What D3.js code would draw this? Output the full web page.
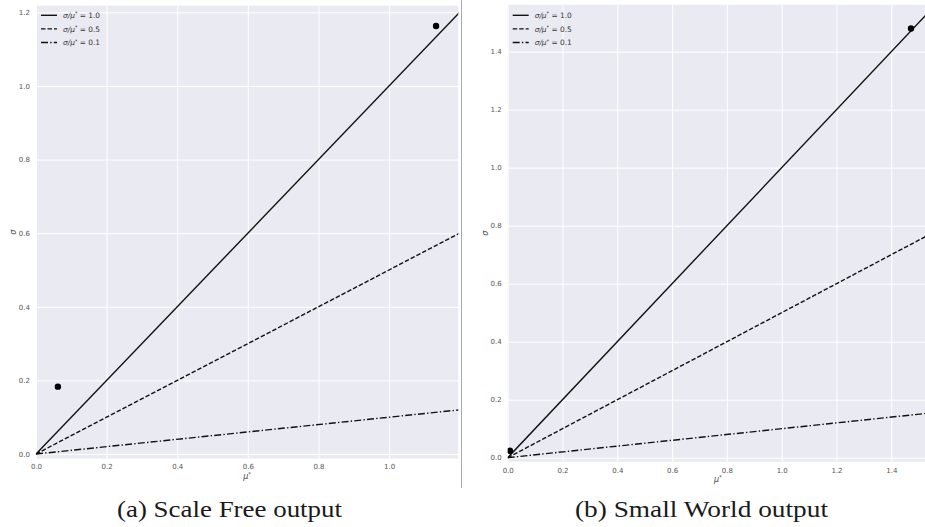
<!DOCTYPE html>
<html>
<head>
<meta charset="utf-8">
<script src="https://cdn.jsdelivr.net/npm/d3@7"></script>
<style>
  html, body { margin: 0; padding: 0; background: #fff; }
  svg { display: block; }
  .tick text { font-family: "DejaVu Sans", sans-serif; font-size: 7px; fill: #555; }
  .caption { font-family: "Liberation Serif", serif; font-size: 22.5px; fill: #1a1a1a; }
</style>
</head>
<body>
<div id="chart"></div>
<script>
// sigma / mu* reference ratios drawn as lines
var ratios = [1.0, 0.5, 0.1];
var ratioLabels = ["1.0", "0.5", "0.1"];

// panel (a) Scale Free
var xTicksA = [0, 0.2, 0.4, 0.6, 0.8, 1.0];
var yTicksA = [0, 0.2, 0.4, 0.6, 0.8, 1.0, 1.2];
var xLimA = [0, 1.196];
var yLimA = [-0.0122, 1.218];
var muA = [0.062, 1.133];
var sigmaA = [0.183, 1.163];

// panel (b) Small World
var xTicksB = [0, 0.2, 0.4, 0.6, 0.8, 1.0, 1.2, 1.4];
var yTicksB = [0, 0.2, 0.4, 0.6, 0.8, 1.0, 1.2, 1.4];
var xLimB = [0, 1.534];
var yLimB = [-0.0138, 1.562];
var muB = [0.008, 1.472];
var sigmaB = [0.024, 1.48];

var captions = ["(a) Scale Free output", "(b) Small World output"];

var W = 925, H = 527;
var dashes = [null, "4.5,2", "7,2.2,1.4,2.2"];

var svg = d3.select("#chart").append("svg")
    .attr("width", W)
    .attr("height", H);

function drawPanel(p) {
    var x = d3.scaleLinear().domain(p.xLim).range([p.left, p.right]);
    var y = d3.scaleLinear().domain(p.yLim).range([p.bottom, p.top]);
    var g = svg.append("g");

    g.append("clipPath").attr("id", p.id)
        .append("rect")
        .attr("x", p.left).attr("y", p.top)
        .attr("width", p.right - p.left).attr("height", p.bottom - p.top);

    g.append("rect")
        .attr("x", p.left).attr("y", p.top)
        .attr("width", p.right - p.left).attr("height", p.bottom - p.top)
        .attr("fill", "#eaeaf2");

    // grid + tick labels
    var xAxis = g.append("g")
        .attr("transform", "translate(0," + p.bottom + ")")
        .call(d3.axisBottom(x).tickValues(p.xTicks).tickFormat(d3.format(".1f"))
            .tickSize(-(p.bottom - p.top)).tickPadding(p.xPad));
    var yAxis = g.append("g")
        .attr("transform", "translate(" + p.left + ",0)")
        .call(d3.axisLeft(y).tickValues(p.yTicks).tickFormat(d3.format(".1f"))
            .tickSize(-(p.right - p.left)).tickPadding(6));
    [xAxis, yAxis].forEach(function(a) {
        a.select(".domain").remove();
        a.selectAll(".tick line").attr("stroke", "#fff").attr("stroke-width", 1);
    });

    // ratio lines
    var plot = g.append("g").attr("clip-path", "url(#" + p.id + ")");
    var xEnd = p.xLim[1] * 1.05;
    plot.selectAll("line.ratio").data(ratios)
        .enter().append("line")
        .attr("class", "ratio")
        .attr("x1", x(0)).attr("y1", y(0))
        .attr("x2", x(xEnd))
        .attr("y2", function(d) { return y(d * xEnd); })
        .attr("stroke", "#111")
        .attr("stroke-width", 1.4)
        .attr("stroke-dasharray", function(d, i) { return dashes[i]; });

    // points
    plot.selectAll("circle").data(p.mu)
        .enter().append("circle")
        .attr("cx", function(d) { return x(d); })
        .attr("cy", function(d, i) { return y(p.sigma[i]); })
        .attr("r", 3.2)
        .attr("fill", "#000");

    // legend
    var leg = g.append("g").selectAll("g").data(ratios)
        .enter().append("g")
        .attr("transform", function(d, i) {
            return "translate(" + (p.left + 5) + "," + (15.3 + i * 13.6) + ")";
        });
    leg.append("line")
        .attr("x1", 0).attr("x2", 16).attr("y1", 0).attr("y2", 0)
        .attr("stroke", "#111").attr("stroke-width", 1.4)
        .attr("stroke-dasharray", function(d, i) { return dashes[i]; });
    var lt = leg.append("text")
        .attr("x", 22).attr("y", 2.6)
        .attr("font-family", "DejaVu Sans, sans-serif")
        .attr("font-size", 7.4)
        .attr("fill", "#333");
    lt.append("tspan").attr("font-style", "italic").text("σ/μ");
    lt.append("tspan").attr("font-size", 5).attr("dy", -2.5).text("*");
    lt.append("tspan").attr("dy", 2.5).text(function(d, i) { return " = " + ratioLabels[i]; });

    // axis labels
    var xl = g.append("text")
        .attr("x", x((p.xLim[0] + p.xLim[1]) / 2))
        .attr("y", p.bottom + 20.5)
        .attr("text-anchor", "middle")
        .attr("font-family", "DejaVu Sans, sans-serif")
        .attr("font-size", 8)
        .attr("fill", "#444");
    xl.append("tspan").attr("font-style", "italic").text("μ");
    xl.append("tspan").attr("font-size", 5.5).attr("dy", -3).text("*");

    g.append("text")
        .attr("transform", "translate(" + p.ylabX + "," + ((p.top + p.bottom) / 2) + ") rotate(-90)")
        .attr("text-anchor", "middle")
        .attr("font-family", "DejaVu Sans, sans-serif")
        .attr("font-size", 8)
        .attr("font-style", "italic")
        .attr("fill", "#444")
        .text("σ");

    // caption
    g.append("text")
        .attr("class", "caption")
        .attr("x", p.capX)
        .attr("y", 516.5)
        .attr("text-anchor", "middle")
        .attr("textLength", p.capW)
        .attr("lengthAdjust", "spacingAndGlyphs")
        .text(p.caption);
}

drawPanel({
    id: "clipA", left: 36, right: 458.3, top: 5.7, bottom: 458.5,
    xLim: xLimA, yLim: yLimA, xTicks: xTicksA, yTicks: yTicksA,
    mu: muA, sigma: sigmaA, xPad: 6, ylabX: 16,
    caption: captions[0], capX: 229.5, capW: 225
});

drawPanel({
    id: "clipB", left: 507.7, right: 928, top: 4.7, bottom: 461.7,
    xLim: xLimB, yLim: yLimB, xTicks: xTicksB, yTicks: yTicksB,
    mu: muB, sigma: sigmaB, xPad: 6, ylabX: 488,
    caption: captions[1], capX: 701.5, capW: 253
});

// separator between the two subfigures
svg.append("line")
    .attr("x1", 461.5).attr("x2", 461.5)
    .attr("y1", 0).attr("y2", 488)
    .attr("stroke", "#aaa").attr("stroke-width", 1);
</script>
</body>
</html>
